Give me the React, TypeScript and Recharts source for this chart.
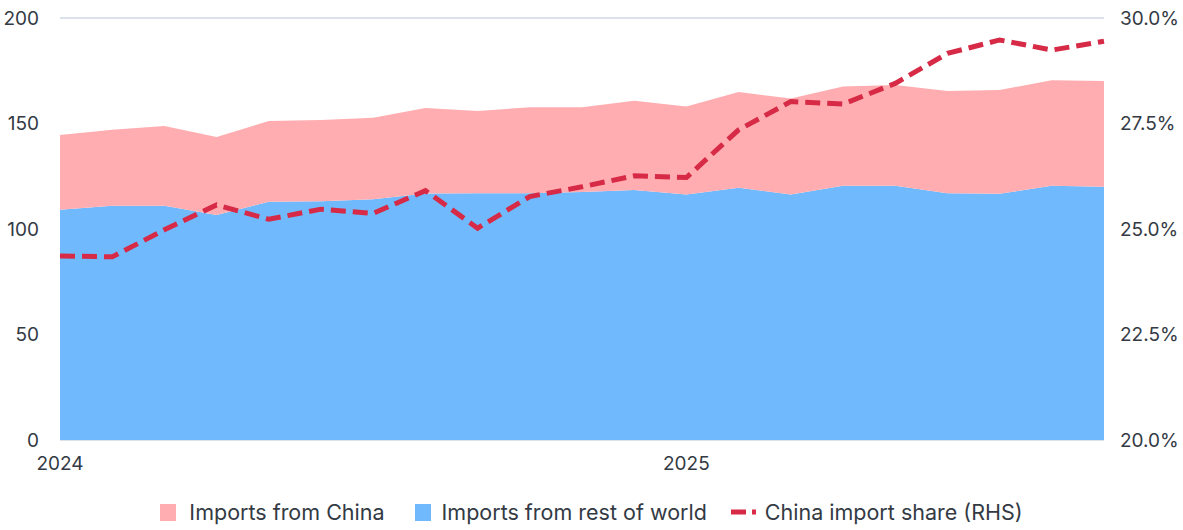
import React from 'react';
import { ComposedChart, Area, Line, XAxis, YAxis, CartesianGrid, Legend } from 'recharts';

// Monthly, Jan 2024 - Sep 2025
const months = [
  '2024-01', '2024-02', '2024-03', '2024-04', '2024-05', '2024-06', '2024-07',
  '2024-08', '2024-09', '2024-10', '2024-11', '2024-12', '2025-01', '2025-02',
  '2025-03', '2025-04', '2025-05', '2025-06', '2025-07', '2025-08', '2025-09',
];

// Imports from rest of world (bottom of stack)
const restOfWorld = [
  109.1, 111, 111, 106.6, 112.9, 113.1, 114.1, 116.8, 116.9, 116.9, 117.5,
  118.5, 116.4, 119.6, 116.4, 120.5, 120.5, 116.9, 116.7, 120.5, 120,
];

// Total imports (top of stack) - china = total - rest
const totalImports = [
  144.5, 147, 148.8, 143.6, 151.2, 151.7, 152.7, 157.4, 155.9, 157.7, 157.7,
  160.8, 158, 164.9, 161.9, 167.5, 168.2, 165.4, 165.9, 170.5, 170.1,
];

// China share of imports, %
const chinaShare = [
  24.36, 24.34, 24.98, 25.57, 25.23, 25.47, 25.37, 25.91, 25.02, 25.77, 26.0,
  26.26, 26.22, 27.35, 28.02, 27.96, 28.45, 29.16, 29.48, 29.24, 29.45,
];

const leftTicks = [0, 50, 100, 150, 200];
const rightTicks = [20, 22.5, 25, 27.5, 30];

const data = months.map((m, i) => ({
  month: m,
  rest: restOfWorld[i],
  china: +(totalImports[i] - restOfWorld[i]).toFixed(1),
  share: chinaShare[i],
}));

const FONT = 'Inter, "Noto Sans", sans-serif';
const PINK = '#ffadb0';
const BLUE = '#70b9fd';
const RED = '#d62a46';
const TEXT = '#333a44';

const LegendContent = () => (
  <div
    style={{
      display: 'flex',
      justifyContent: 'center',
      alignItems: 'center',
      fontFamily: FONT,
      fontSize: 21.5,
      color: TEXT,
      paddingTop: 29,
    }}
  >
    <span style={{ display: 'flex', alignItems: 'center', marginRight: 30 }}>
      <span style={{ width: 16, height: 17, background: PINK, marginRight: 13 }} />
      Imports from China
    </span>
    <span style={{ display: 'flex', alignItems: 'center', marginRight: 24 }}>
      <span style={{ width: 16, height: 17, background: BLUE, marginRight: 11 }} />
      Imports from rest of world
    </span>
    <span style={{ display: 'flex', alignItems: 'center' }}>
      <svg width={25} height={8} style={{ marginRight: 9 }}>
        <line x1={0} y1={4} x2={25} y2={4} stroke={RED} strokeWidth={5} strokeDasharray="15 6" />
      </svg>
      China import share (RHS)
    </span>
  </div>
);

export default function App() {
  const tickStyle = { fontFamily: FONT, fontSize: 19, fill: TEXT };
  return (
    <div style={{ position: 'absolute', left: 0, top: 0, width: 1183, height: 530, background: '#fff' }}>
      <ComposedChart
        width={1183}
        height={530}
        data={data}
        margin={{ top: 18, right: 0, bottom: 0, left: 0 }}
      >
        <CartesianGrid vertical={false} stroke="#dbe2ea" strokeWidth={2} />
        <XAxis
          dataKey="month"
          interval={0}
          axisLine={false}
          tickLine={false}
          height={30}
          tickMargin={11}
          tick={tickStyle}
          tickFormatter={(m: string) => (m.endsWith('-01') ? m.slice(0, 4) : '')}
        />
        <YAxis
          yAxisId="left"
          domain={[0, 200]}
          ticks={leftTicks}
          axisLine={false}
          tickLine={false}
          width={60}
          tickMargin={15}
          tick={tickStyle}
        />
        <YAxis
          yAxisId="right"
          orientation="right"
          domain={[20, 30]}
          ticks={rightTicks}
          axisLine={false}
          tickLine={false}
          width={79}
          tickMargin={10}
          tick={tickStyle}
          tickFormatter={(v: number) => `${v.toFixed(1)}%`}
        />
        <Area
          yAxisId="left"
          type="linear"
          dataKey="rest"
          name="Imports from rest of world"
          stackId="1"
          stroke="none"
          fill={BLUE}
          fillOpacity={1}
          isAnimationActive={false}
        />
        <Area
          yAxisId="left"
          type="linear"
          dataKey="china"
          name="Imports from China"
          stackId="1"
          stroke="none"
          fill={PINK}
          fillOpacity={1}
          isAnimationActive={false}
        />
        <Line
          yAxisId="right"
          type="linear"
          dataKey="share"
          name="China import share (RHS)"
          stroke={RED}
          strokeWidth={5}
          strokeDasharray="15 7"
          dot={false}
          activeDot={false}
          isAnimationActive={false}
        />
        <Legend
          verticalAlign="bottom"
          content={LegendContent}
          wrapperStyle={{ height: 60 }}
        />
      </ComposedChart>
    </div>
  );
}
